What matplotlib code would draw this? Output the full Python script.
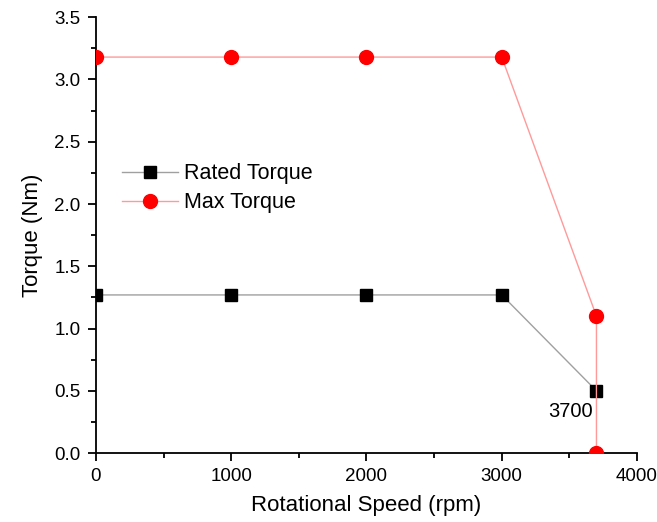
import matplotlib
matplotlib.use("Agg")
import matplotlib.pyplot as plt
from matplotlib.ticker import MultipleLocator, FormatStrFormatter

plt.rcParams['font.family'] = ['Liberation Sans', 'DejaVu Sans']

rated_speed = [0, 1000, 2000, 3000, 3700]
rated_torque = [1.27, 1.27, 1.27, 1.27, 0.5]
max_speed = [0, 1000, 2000, 3000, 3700, 3700]
max_torque = [3.18, 3.18, 3.18, 3.18, 1.1, 0.0]

fig = plt.figure(figsize=(6.57, 5.22), dpi=100)
ax = fig.add_axes([0.146, 0.132, 0.8236, 0.835])

ax.plot(rated_speed, rated_torque, color='#a0a0a0', lw=1.0, marker='s',
        markersize=8, markerfacecolor='black', markeredgecolor='black',
        label='Rated Torque', zorder=2)
ax.plot(max_speed, max_torque, color='#ff9a9a', lw=1.0, marker='o',
        markersize=10, markerfacecolor='#ff0000', markeredgecolor='#ff0000',
        label='Max Torque', zorder=3)

ax.text(3505, 0.33, '3700', fontsize=14.5, ha='center', va='center')

ax.set_xlim(0, 4000)
ax.set_ylim(0, 3.5)
ax.xaxis.set_major_locator(MultipleLocator(1000))
ax.xaxis.set_minor_locator(MultipleLocator(500))
ax.yaxis.set_major_locator(MultipleLocator(0.5))
ax.yaxis.set_minor_locator(MultipleLocator(0.25))
ax.yaxis.set_major_formatter(FormatStrFormatter('%.1f'))

for s in ('top', 'right'):
    ax.spines[s].set_visible(False)
for s in ('left', 'bottom'):
    ax.spines[s].set_linewidth(1.3)
ax.tick_params(which='major', direction='out', length=6, width=1.3,
               labelsize=13.5, pad=5)
ax.tick_params(which='minor', direction='out', length=3.5, width=1.3)

ax.set_xlabel('Rotational Speed (rpm)', fontsize=16, labelpad=7)
ax.set_ylabel('Torque (Nm)', fontsize=16, labelpad=8)

ax.legend(loc='upper left', bbox_to_anchor=(0.02, 0.70), frameon=False,
          fontsize=15.5, handlelength=2.6, handletextpad=0.3, labelspacing=0.38,
          borderpad=0.2)

fig.savefig('out.png', dpi=100)
